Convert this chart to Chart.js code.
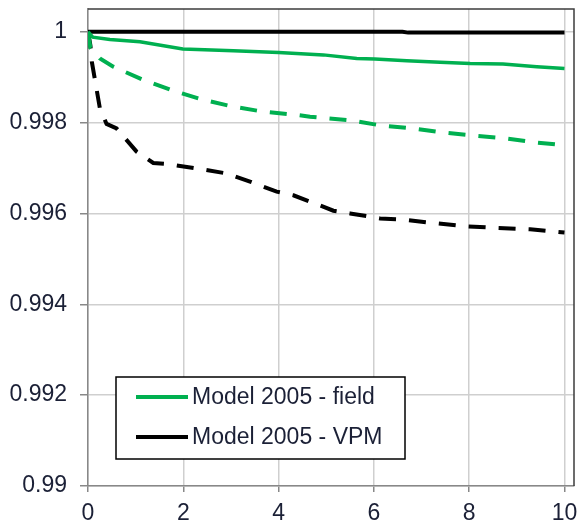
<!DOCTYPE html>
<html>
<head>
<meta charset="utf-8">
<script src="https://cdn.jsdelivr.net/npm/chart.js@4/dist/chart.umd.min.js"></script>
<style>
    html, body { margin: 0; padding: 0; background: #fff; }
    #wrap { width: 579px; height: 525px; }
</style>
</head>
<body>
<div id="wrap"><canvas id="chart" width="579" height="525"></canvas></div>
<script>
// ===== Series values =====
const legendNames = ['Model 2005 - field', 'Model 2005 - VPM'];

const fieldX = [0, 0.1, 0.46, 1.09, 1.99, 3.05, 4.0, 4.94, 5.64, 6.02, 6.69, 7.39, 8.02, 8.71, 9.42, 10];
const fieldY = [1, 0.99988, 0.99983, 0.99978, 0.99962, 0.99958, 0.99954, 0.99949, 0.99941, 0.9994, 0.99936, 0.99933, 0.9993, 0.99929, 0.99923, 0.99919];

const vpmX = [0, 6.6, 6.72, 10];
const vpmY = [1, 1, 0.99998, 0.99998];

const fieldDashX = [0, 0.05, 0.25, 0.53, 1.16, 1.79, 2.42, 3.05, 3.68, 4.38, 4.66, 5.5, 6.13, 6.83, 7.46, 8.12, 8.79, 9.42, 10];
const fieldDashY = [1, 0.99965, 0.99941, 0.99923, 0.99894, 0.9987, 0.9985, 0.99835, 0.99824, 0.99817, 0.99813, 0.99805, 0.99794, 0.99787, 0.99778, 0.99771, 0.99765, 0.99756, 0.9975];

const vpmDashX = [0, 0.05, 0.08, 0.25, 0.39, 0.6, 1.02, 1.37, 1.65, 2.28, 2.91, 3.4, 3.96, 4.31, 4.66, 5.15, 5.5, 5.85, 6.13, 6.55, 7.25, 7.88, 8.58, 9.28, 10];
const vpmDashY = [1, 0.9997, 0.99934, 0.99831, 0.99797, 0.99787, 0.99736, 0.99711, 0.99709, 0.99699, 0.99688, 0.9967, 0.99648, 0.9964, 0.99626, 0.99606, 0.996, 0.99594, 0.99589, 0.99587, 0.99579, 0.99572, 0.99568, 0.99565, 0.99558];

const GREEN = '#00b050';
const TEXT = '#1b2036';
const FONT = 'Liberation Sans, Arial, sans-serif';

const pts = (xs, ys) => xs.map((x, i) => ({ x, y: ys[i] }));

// frame: dark top/right edges round the plot
const plotFrame = {
    id: 'plotFrame',
    afterDraw(chart) {
        const { ctx, chartArea: a } = chart;
        ctx.save();
        ctx.strokeStyle = '#3c3c3c';
        ctx.lineWidth = 1.5;
        ctx.beginPath();
        ctx.moveTo(a.left, a.top);
        ctx.lineTo(a.right, a.top);
        ctx.lineTo(a.right, a.bottom);
        ctx.stroke();
        ctx.restore();
    }
};

// boxed legend inside the plot, solid series only
const boxLegend = {
    id: 'boxLegend',
    afterDatasetsDraw(chart) {
        const { ctx } = chart;
        const items = chart.data.datasets.filter(d => d.inLegend);
        const left = 116, top = 377, width = 289, height = 82;
        ctx.save();
        ctx.fillStyle = '#fff';
        ctx.fillRect(left, top, width, height);
        ctx.strokeStyle = '#000';
        ctx.lineWidth = 1.5;
        ctx.strokeRect(left, top, width, height);
        ctx.font = '23px ' + FONT;
        ctx.textBaseline = 'middle';
        items.forEach((d, i) => {
            const y = top + 20 + i * 40;
            ctx.strokeStyle = d.borderColor;
            ctx.lineWidth = 4;
            ctx.beginPath();
            ctx.moveTo(136, y);
            ctx.lineTo(188, y);
            ctx.stroke();
            ctx.fillStyle = TEXT;
            ctx.fillText(d.label, 192, y + 1);
        });
        ctx.restore();
    }
};

new Chart(document.getElementById('chart'), {
    type: 'line',
    data: {
        datasets: [
            { label: legendNames[0], inLegend: true, data: pts(fieldX, fieldY), borderColor: GREEN, borderWidth: 3.5 },
            { label: legendNames[1], inLegend: true, data: pts(vpmX, vpmY), borderColor: '#000', borderWidth: 4 },
            { label: legendNames[0] + ' (dashed)', data: pts(fieldDashX, fieldDashY), borderColor: GREEN, borderWidth: 4, borderDash: [17, 13] },
            { label: legendNames[1] + ' (dashed)', data: pts(vpmDashX, vpmDashY), borderColor: '#000', borderWidth: 4, borderDash: [17, 13] }
        ]
    },
    options: {
        responsive: false,
        animation: false,
        layout: { padding: { top: 9, right: 5, left: 0, bottom: 0 } },
        elements: { point: { radius: 0 }, line: { tension: 0, borderCapStyle: 'butt' } },
        plugins: { legend: { display: false }, tooltip: { enabled: false } },
        scales: {
            x: {
                type: 'linear',
                min: 0,
                max: 10.2,
                afterFit: s => { s.height = 39; s.paddingLeft = 0; s.paddingRight = 0; },
                ticks: { stepSize: 2, includeBounds: false, color: TEXT, font: { family: FONT, size: 23 }, padding: 8, maxRotation: 0 },
                grid: { color: '#cfcfcf', lineWidth: 1.5, tickLength: 6, tickColor: '#888' },
                border: { color: '#888', width: 1.5 }
            },
            y: {
                min: 0.99,
                max: 1.0005,
                afterFit: s => { s.width = 88; s.paddingTop = 0; s.paddingBottom = 0; },
                ticks: {
                    stepSize: 0.002,
                    includeBounds: false,
                    color: TEXT,
                    font: { family: FONT, size: 23 },
                    padding: 13,
                    callback: v => String(Number(v.toFixed(3)))
                },
                grid: { color: '#cfcfcf', lineWidth: 1.5, tickLength: 8, tickColor: '#888' },
                border: { color: '#888', width: 1.5 }
            }
        }
    },
    plugins: [plotFrame, boxLegend]
});
</script>
</body>
</html>
